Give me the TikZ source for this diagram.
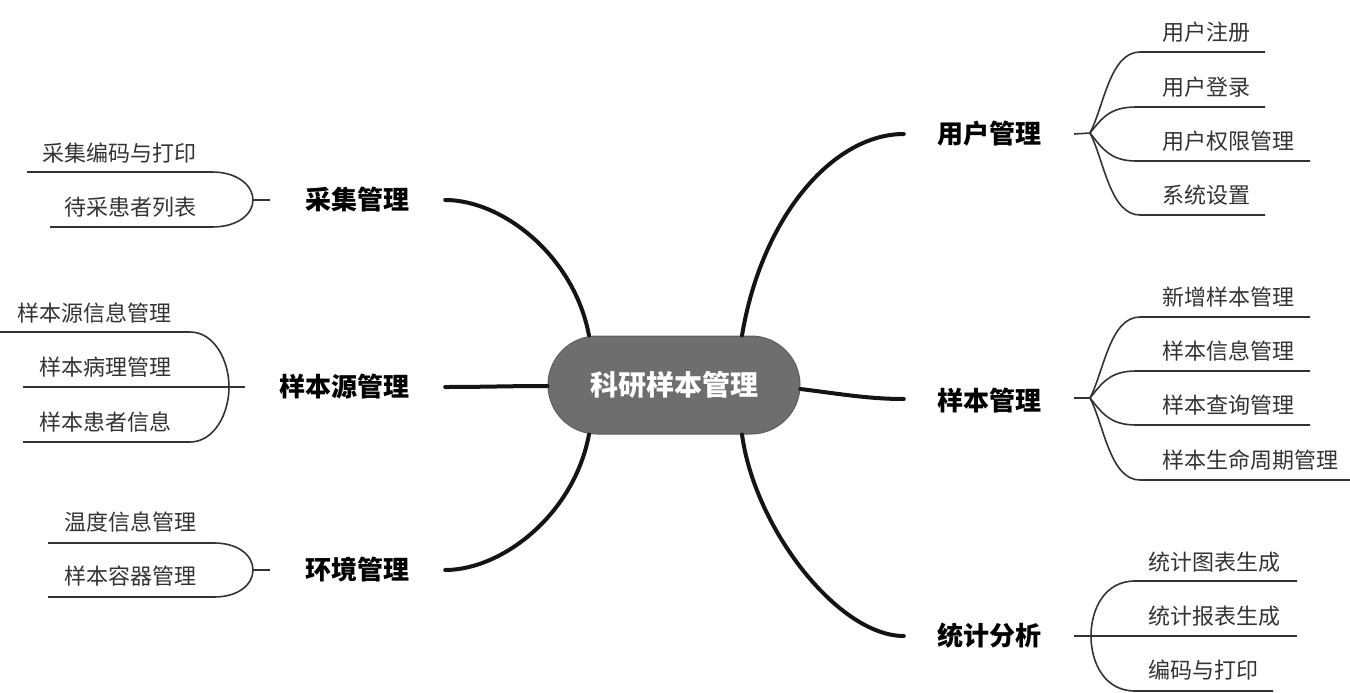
\documentclass[tikz,border=0pt]{standalone}
\usepackage{fontspec}
\newfontfamily\cjk{Noto Sans CJK SC}
\definecolor{leafc}{HTML}{333333}
\definecolor{rootc}{HTML}{6E6E6E}
\tikzset{
  leaf/.style={font=\cjk\fontsize{22}{26}\selectfont, text=leafc, anchor=west, inner sep=0pt},
  branch/.style={font=\cjk\bfseries\fontsize{26}{30}\selectfont, text=black, inner sep=0pt},
  bline/.style={line width=4pt, draw=black!92, line cap=round},
  lline/.style={line width=1.6pt, draw=leafc}
}
\begin{document}
\begin{tikzpicture}[x=1pt,y=-1pt]
\useasboundingbox (0,0) rectangle (1350,693);
% root
\node[fill=rootc, draw=rootc!85!black, line width=1pt, rounded corners=49pt, minimum width=252pt, minimum height=98pt,
  font=\cjk\bfseries\fontsize{28}{32}\selectfont, text=white] (root) at (674,385) {科研样本管理};
% branches
\node[branch] (bu) at (989,134) {用户管理};
\node[branch] (bs) at (989,401) {样本管理};
\node[branch] (bt) at (989,636) {统计分析};
\node[branch] (bc) at (357,200) {采集管理};
\node[branch] (by) at (344,387) {样本源管理};
\node[branch] (be) at (357,570) {环境管理};
% branch connectors
\draw[bline] ([xshift=68pt]root.north) .. controls +(20,-120) and +(-70,0) .. ([xshift=-33pt]bu.west);
\draw[bline] ([yshift=-4pt]root.east) .. controls +(40,5) and +(-35,0) .. ([xshift=-33pt,yshift=2pt]bs.west);
\draw[bline] ([xshift=68pt]root.south) .. controls +(13,95) and +(-65,0) .. ([xshift=-33pt]bt.west);
\draw[bline] ([xshift=-85pt]root.north) .. controls +(-15,-80) and +(57,0) .. ([xshift=36pt]bc.east);
\draw[bline] ([yshift=-1pt]root.west) .. controls +(-40,0) and +(40,0) .. ([xshift=36pt]by.east);
\draw[bline] ([xshift=-85pt]root.south) .. controls +(-15,80) and +(57,0) .. ([xshift=36pt]be.east);
% ---- 用户管理 leaves
\node[leaf] (u1) at (1162,32) {用户注册};
\node[leaf] (u2) at (1162,87) {用户登录};
\node[leaf] (u3) at (1162,141) {用户权限管理};
\node[leaf] (u4) at (1162,195) {系统设置};
\coordinate (uf) at (1090,133);
\draw[lline] ([xshift=33pt]bu.east) -- (uf);
\draw[lline] (uf) .. controls (1104,106) and (1110,52) .. (1140,52) -- (1265,52);
\draw[lline] (uf) .. controls (1102,118) and (1110,107) .. (1136,107) -- (1265,107);
\draw[lline] (uf) .. controls (1102,148) and (1110,161) .. (1136,161) -- (1310,161);
\draw[lline] (uf) .. controls (1104,160) and (1110,215) .. (1140,215) -- (1265,215);
% ---- 样本管理 leaves
\node[leaf] (s1) at (1162,297) {新增样本管理};
\node[leaf] (s2) at (1162,351) {样本信息管理};
\node[leaf] (s3) at (1162,405) {样本查询管理};
\node[leaf] (s4) at (1162,460) {样本生命周期管理};
\coordinate (sf) at (1090,398);
\draw[lline] ([xshift=33pt,yshift=3pt]bs.east) -- (sf);
\draw[lline] (sf) .. controls (1104,371) and (1110,317) .. (1140,317) -- (1310,317);
\draw[lline] (sf) .. controls (1102,383) and (1110,371) .. (1136,371) -- (1310,371);
\draw[lline] (sf) .. controls (1102,413) and (1110,425) .. (1136,425) -- (1310,425);
\draw[lline] (sf) .. controls (1104,425) and (1110,480) .. (1140,480) -- (1350,480);
% ---- 统计分析 leaves
\node[leaf] (t1) at (1148,562) {统计图表生成};
\node[leaf] (t2) at (1148,616) {统计报表生成};
\node[leaf] (t3) at (1148,670) {编码与打印};
\draw[lline] ([xshift=33pt]bt.east) -- (1297,636);
\draw[lline] (1297,581) -- (1135,581) .. controls (1104,581) and (1091,610) .. (1091,636)
  .. controls (1091,662) and (1104,691) .. (1135,691) -- (1273,691);
% ---- 采集管理 leaves
\node[leaf] (c1) at (42,153) {采集编码与打印};
\node[leaf] (c2) at (64,207) {待采患者列表};
\draw[lline] ([xshift=-35pt]bc.west) -- (253,200);
\draw[lline] (27,172) -- (212,172) .. controls (238,172) and (253,186) .. (253,200)
  .. controls (253,214) and (238,227) .. (212,227) -- (50,227);
% ---- 样本源管理 leaves
\node[leaf] (y1) at (17,313) {样本源信息管理};
\node[leaf] (y2) at (39,367) {样本病理管理};
\node[leaf] (y3) at (39,422) {样本患者信息};
\draw[lline] ([xshift=-34pt]by.west) -- (23,387);
\draw[lline] (0,332) -- (190,332) .. controls (214,332) and (229,360) .. (229,387)
  .. controls (229,414) and (214,442) .. (190,442) -- (23,442);
% ---- 环境管理 leaves
\node[leaf] (e1) at (64,522) {温度信息管理};
\node[leaf] (e2) at (64,576) {样本容器管理};
\draw[lline] ([xshift=-35pt]be.west) -- (253,570);
\draw[lline] (48,543) -- (214,543) .. controls (239,543) and (253,556) .. (253,570)
  .. controls (253,584) and (239,597) .. (214,597) -- (48,597);
\end{tikzpicture}
\end{document}
